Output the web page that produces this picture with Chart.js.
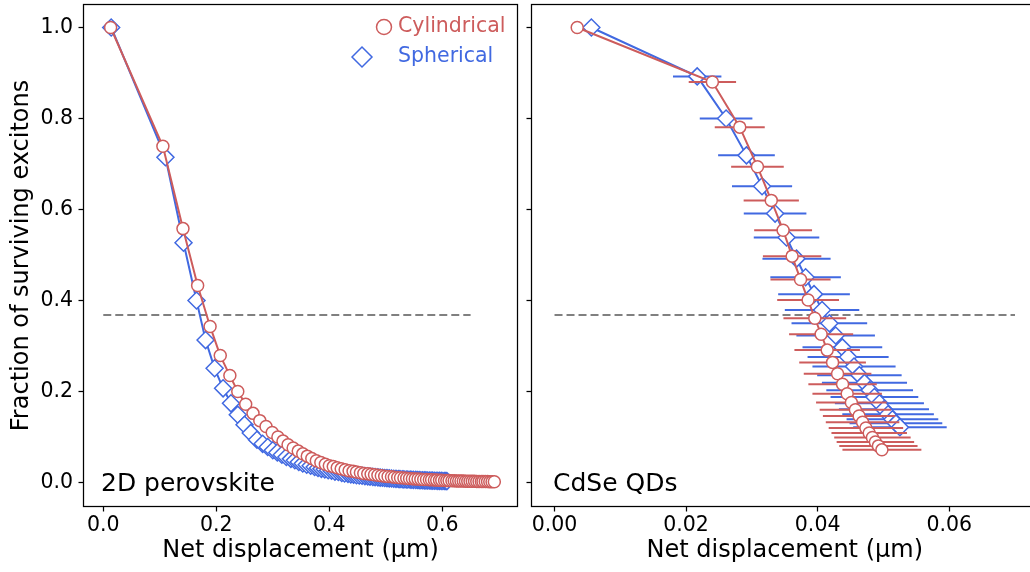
<!DOCTYPE html>
<html><head><meta charset="utf-8">
<script src="https://cdn.jsdelivr.net/npm/chart.js@4.4.1/dist/chart.umd.min.js"></script>
<style>
html,body{margin:0;padding:0;width:1030px;height:572px;overflow:hidden;background:#fff;}
#wa{position:absolute;left:0;top:0;width:525px;height:572px;}
#wb{position:absolute;left:525px;top:0;width:525px;height:572px;}
</style></head><body>
<div id="wa"><canvas id="ca"></canvas></div>
<div id="wb"><canvas id="cb"></canvas></div>
<script>
// ---------------- data ----------------
const perovCylX = [0.013,0.1055,0.141,0.167,0.189,0.207,0.224,0.238,0.252,0.265,0.277,0.288,0.299,0.309,0.318,0.327,0.336,0.345,0.353,0.361,0.369,0.377,0.385,
0.393,0.400,0.407,0.414,0.421,0.428,0.435,0.442,0.448,0.455,
0.461,0.468,0.474,0.480,0.486,0.492,0.498,0.504,0.510,0.515,
0.521,0.526,0.532,0.537,0.542,0.547,0.552,0.557,0.562,0.567,
0.572,0.577,0.581,0.586,0.590,0.595,0.599,0.604,0.608,0.612,
0.617,0.621,0.625,0.629,0.633,0.637,0.641,0.645,0.649,0.653,
0.657,0.661,0.665,0.669,0.672,0.676,0.680,0.684,0.688,0.692];
const perovCylY = [1.000,0.739,0.558,0.433,0.343,0.279,0.235,0.200,0.172,0.152,0.136,0.123,0.110,0.100,0.091,0.083,0.076,0.069,0.063,0.058,0.053,0.048,0.044,
0.040,0.037,0.035,0.0325,0.030,0.028,0.026,0.0245,0.023,0.0215,
0.020,0.019,0.018,0.017,0.016,0.015,0.014,0.0132,0.0125,0.0118,
0.0111,0.0105,0.0099,0.0094,0.0089,0.0085,0.0080,0.0076,0.0072,0.0068,
0.0065,0.0062,0.0059,0.0056,0.0053,0.0050,0.0048,0.0046,0.0044,0.0042,
0.0040,0.0038,0.0036,0.0035,0.0033,0.0032,0.0030,0.0029,0.0028,0.0027,
0.0026,0.0025,0.0024,0.0023,0.0022,0.0021,0.0020,0.0019,0.0018,0.0017];
const perovSphX = [0.014,0.110,0.142,0.165,0.181,0.197,0.212,0.226,0.238,0.250,0.261,0.272,0.282,0.291,0.300,0.308,0.316,0.324,0.332,0.339,0.346,0.353,0.360,
0.367,0.374,0.380,0.386,0.392,0.398,0.404,0.410,0.416,0.422,
0.427,0.433,0.438,0.443,0.448,0.453,0.458,0.463,0.468,0.472,
0.477,0.481,0.486,0.490,0.494,0.498,0.502,0.506,0.510,0.514,
0.518,0.522,0.525,0.529,0.532,0.536,0.539,0.543,0.546,0.549,
0.553,0.556,0.559,0.562,0.565,0.568,0.571,0.574,0.577,0.580,
0.583,0.586,0.589,0.592,0.595,0.598,0.601,0.604,0.606,0.608];
const perovSphY = [1.000,0.715,0.527,0.400,0.313,0.251,0.207,0.174,0.149,0.127,0.109,0.094,0.085,0.078,0.071,0.066,0.061,0.056,0.052,0.049,0.045,0.042,0.039,
0.037,0.034,0.032,0.030,0.029,0.027,0.026,0.024,0.023,0.021,
0.020,0.019,0.018,0.017,0.016,0.0155,0.0148,0.0141,0.0134,0.0129,
0.0123,0.0118,0.0113,0.0108,0.0104,0.0100,0.0096,0.0092,0.0088,0.0084,
0.0081,0.0078,0.0075,0.0072,0.0070,0.0067,0.0065,0.0063,0.0061,0.0059,
0.0057,0.0055,0.0053,0.0051,0.0049,0.0048,0.0046,0.0045,0.0043,0.0042,
0.0041,0.0039,0.0038,0.0037,0.0036,0.0035,0.0034,0.0033,0.0032,0.0031];

const cdseCylX = [0.00345,0.0240,0.02816,0.03085,0.03295,0.03475,0.03612,0.0374,0.03855,0.03957,0.04053,0.04145,0.04227,0.04303,0.04379,0.04449,0.04513,0.04574,0.0463,0.04683,0.04734,0.04784,0.04833,0.04878,0.04924,0.04977];
const cdseCylY = [1.000,0.880,0.781,0.694,0.620,0.5545,0.4975,0.446,0.401,0.361,0.326,0.291,0.264,0.239,0.216,0.195,0.176,0.160,0.146,0.1325,0.120,0.109,0.099,0.089,0.0805,0.0718];
const cdseCylErr = [0,0.0036,0.0038,0.0040,0.0042,0.0044,0.00444,0.00457,0.0047,0.00477,0.00487,0.00498,0.00507,0.00514,0.0052,0.00528,0.00537,0.00543,0.0055,0.00559,0.00566,0.00574,0.00581,0.00589,0.00595,0.0060];
const cdseSphX = [0.0056,0.02169,0.02608,0.02918,0.03155,0.03353,0.03527,0.03679,0.03817,0.03945,0.04067,0.04178,0.04274,0.04376,0.04463,0.04553,0.04635,0.04712,0.04791,0.04863,0.04939,0.05008,0.05071,0.05137,0.0519,0.05251];
const cdseSphY = [1.000,0.8925,0.800,0.719,0.651,0.591,0.5385,0.492,0.451,0.414,0.379,0.350,0.323,0.297,0.276,0.255,0.236,0.219,0.203,0.188,0.174,0.161,0.150,0.139,0.130,0.1216];
const cdseSphErr = [0,0.00368,0.0040,0.00431,0.00457,0.00476,0.00498,0.00518,0.00536,0.00545,0.00566,0.00575,0.00597,0.00606,0.00616,0.00632,0.00642,0.00647,0.00659,0.00667,0.00677,0.00685,0.00696,0.00697,0.00705,0.00711];

const thresholdY = 0.368;
const perovThreshX = [0, 0.65];
const cdseThreshX = [0, 0.07];

const perovXTicks = [0.0, 0.2, 0.4, 0.6];
const cdseXTicks = [0.00, 0.02, 0.04, 0.06];
const yTicks = [0.0, 0.2, 0.4, 0.6, 0.8, 1.0];

const seriesNames = ['Cylindrical', 'Spherical'];
const panelNames = ['2D perovskite', 'CdSe QDs'];
const xTitle = 'Net displacement (\u03bcm)';
const yTitle = 'Fraction of surviving excitons';

// ---------------- styling ----------------
const RED = '#CD5C5C', BLUE = '#4169E1';
const FONT = 'DejaVu Sans';
Chart.defaults.font.family = FONT;
Chart.defaults.color = '#000';

const pts = (xs, ys) => xs.map((x, i) => ({x: x, y: ys[i]}));

function datasets(cx, cy, sx, sy, tx, cerr, serr) {
  return [
    {label: seriesNames[0], data: pts(cx, cy), xErr: cerr, showLine: true,
     borderColor: RED, borderWidth: 2, pointStyle: 'circle', pointRadius: 6,
     pointBorderWidth: 1.5, pointBackgroundColor: '#fff', pointBorderColor: RED, tension: 0},
    {label: seriesNames[1], data: pts(sx, sy), xErr: serr, showLine: true,
     borderColor: BLUE, borderWidth: 2, pointStyle: 'rectRot', pointRadius: 8.5,
     pointBorderWidth: 1.5, pointBackgroundColor: '#fff', pointBorderColor: BLUE, tension: 0},
    {label: 'threshold', data: tx.map(x => ({x: x, y: thresholdY})), showLine: true,
     borderColor: '#808080', borderWidth: 2, borderDash: [8, 4], pointRadius: 0}
  ];
}

const decoPlugin = {
  id: 'deco',
  beforeDatasetDraw(chart, args) {
    const ds = chart.data.datasets[args.index];
    if (!ds.xErr) return;
    const ctx = chart.ctx, xs = chart.scales.x, ys = chart.scales.y, a = chart.chartArea;
    ctx.save();
    ctx.beginPath(); ctx.rect(a.left, a.top, a.right - a.left, a.bottom - a.top); ctx.clip();
    ctx.strokeStyle = ds.borderColor; ctx.lineWidth = 2;
    ds.data.forEach((p, i) => {
      const e = ds.xErr[i]; if (!e) return;
      const y = ys.getPixelForValue(p.y);
      ctx.beginPath();
      ctx.moveTo(xs.getPixelForValue(p.x - e), y);
      ctx.lineTo(xs.getPixelForValue(p.x + e), y);
      ctx.stroke();
    });
    ctx.restore();
  },
  afterDraw(chart, args, o) {
    const ctx = chart.ctx, a = chart.chartArea;
    ctx.save();
    ctx.strokeStyle = '#000'; ctx.lineWidth = 1.25;
    ctx.strokeRect(a.left, a.top, a.right - a.left, a.bottom - a.top);
    ctx.fillStyle = '#000';
    ctx.font = '25px "' + FONT + '"';
    ctx.textAlign = 'left'; ctx.textBaseline = 'middle';
    ctx.fillText(o.label, o.labelX, o.labelY);
    if (o.legend) {
      ctx.font = '20.5px "' + FONT + '"';
      ctx.lineWidth = 1.5;
      ctx.strokeStyle = RED; ctx.fillStyle = '#fff';
      ctx.beginPath(); ctx.arc(384, 27, 7.5, 0, Math.PI * 2); ctx.fill(); ctx.stroke();
      ctx.fillStyle = RED; ctx.fillText(seriesNames[0], 398, 27);
      ctx.strokeStyle = BLUE; ctx.fillStyle = '#fff';
      ctx.beginPath();
      ctx.moveTo(362 - 10, 57); ctx.lineTo(362, 47); ctx.lineTo(362 + 10, 57); ctx.lineTo(362, 67);
      ctx.closePath(); ctx.fill(); ctx.stroke();
      ctx.fillStyle = BLUE; ctx.fillText(seriesNames[1], 398, 57);
    }
    ctx.restore();
  }
};

function scaleX(min, max, ticks, dec, axisHeight) {
  return {
    type: 'linear', min: min, max: max,
    afterBuildTicks: s => { s.ticks = ticks.map(v => ({value: v})); },
    afterFit: s => { s.height = axisHeight; s.paddingLeft = 0; s.paddingRight = 0; s.paddingTop = 0; s.paddingBottom = 0; },
    ticks: {font: {size: 20.5, lineHeight: 1.2}, padding: 1.5, color: '#000',
            autoSkip: false, maxRotation: 0, callback: v => Number(v).toFixed(dec)},
    grid: {display: true, drawOnChartArea: false, drawTicks: true, tickLength: 5, tickWidth: 1.25, tickColor: '#000'},
    border: {display: false},
    title: {display: true, text: xTitle, font: {size: 24, lineHeight: 1.2}, color: '#000', padding: {top: 0, bottom: 7}}
  };
}
function scaleY(showLabels, width) {
  return {
    type: 'linear', min: -0.0527, max: 1.0505,
    afterBuildTicks: s => { s.ticks = yTicks.map(v => ({value: v})); },
    afterFit: s => { s.width = width; s.paddingLeft = 0; s.paddingRight = 0; s.paddingTop = 0; s.paddingBottom = 0; },
    ticks: {display: showLabels, font: {size: 20.5, lineHeight: 1.2}, padding: 5.5, color: '#000',
            autoSkip: false, callback: v => Number(v).toFixed(1)},
    grid: {display: true, drawOnChartArea: false, drawTicks: true, tickLength: 5, tickWidth: 1.25, tickColor: '#000'},
    border: {display: false},
    title: {display: showLabels, text: yTitle, font: {size: 24, lineHeight: 1.2}, color: '#000', padding: {top: 7.5, bottom: 0}}
  };
}

function baseOptions(xs, ys, pad, deco) {
  return {
    responsive: true, maintainAspectRatio: false, animation: false, devicePixelRatio: 1,
    events: [],
    layout: {padding: pad, autoPadding: false},
    scales: {x: xs, y: ys},
    plugins: {legend: {display: false}, tooltip: {enabled: false}, deco: deco}
  };
}

new Chart(document.getElementById('ca'), {
  type: 'scatter',
  data: {datasets: datasets(perovCylX, perovCylY, perovSphX, perovSphY, perovThreshX, null, null)},
  options: baseOptions(scaleX(-0.035, 0.733, perovXTicks, 1, 65.5), scaleY(true, 83.5),
    {top: 4.5, right: 7.5, left: 0, bottom: 0},
    {label: panelNames[0], labelX: 101, labelY: 484, legend: true}),
  plugins: [decoPlugin]
});

new Chart(document.getElementById('cb'), {
  type: 'scatter',
  data: {datasets: datasets(cdseCylX, cdseCylY, cdseSphX, cdseSphY, cdseThreshX, cdseCylErr, cdseSphErr)},
  options: baseOptions(scaleX(-0.0035, 0.0735, cdseXTicks, 2, 65.5), scaleY(false, 6.5),
    {top: 4.5, right: 12, left: 0, bottom: 0},
    {label: panelNames[1], labelX: 28, labelY: 484, legend: false}),
  plugins: [decoPlugin]
});
</script>
</body></html>
